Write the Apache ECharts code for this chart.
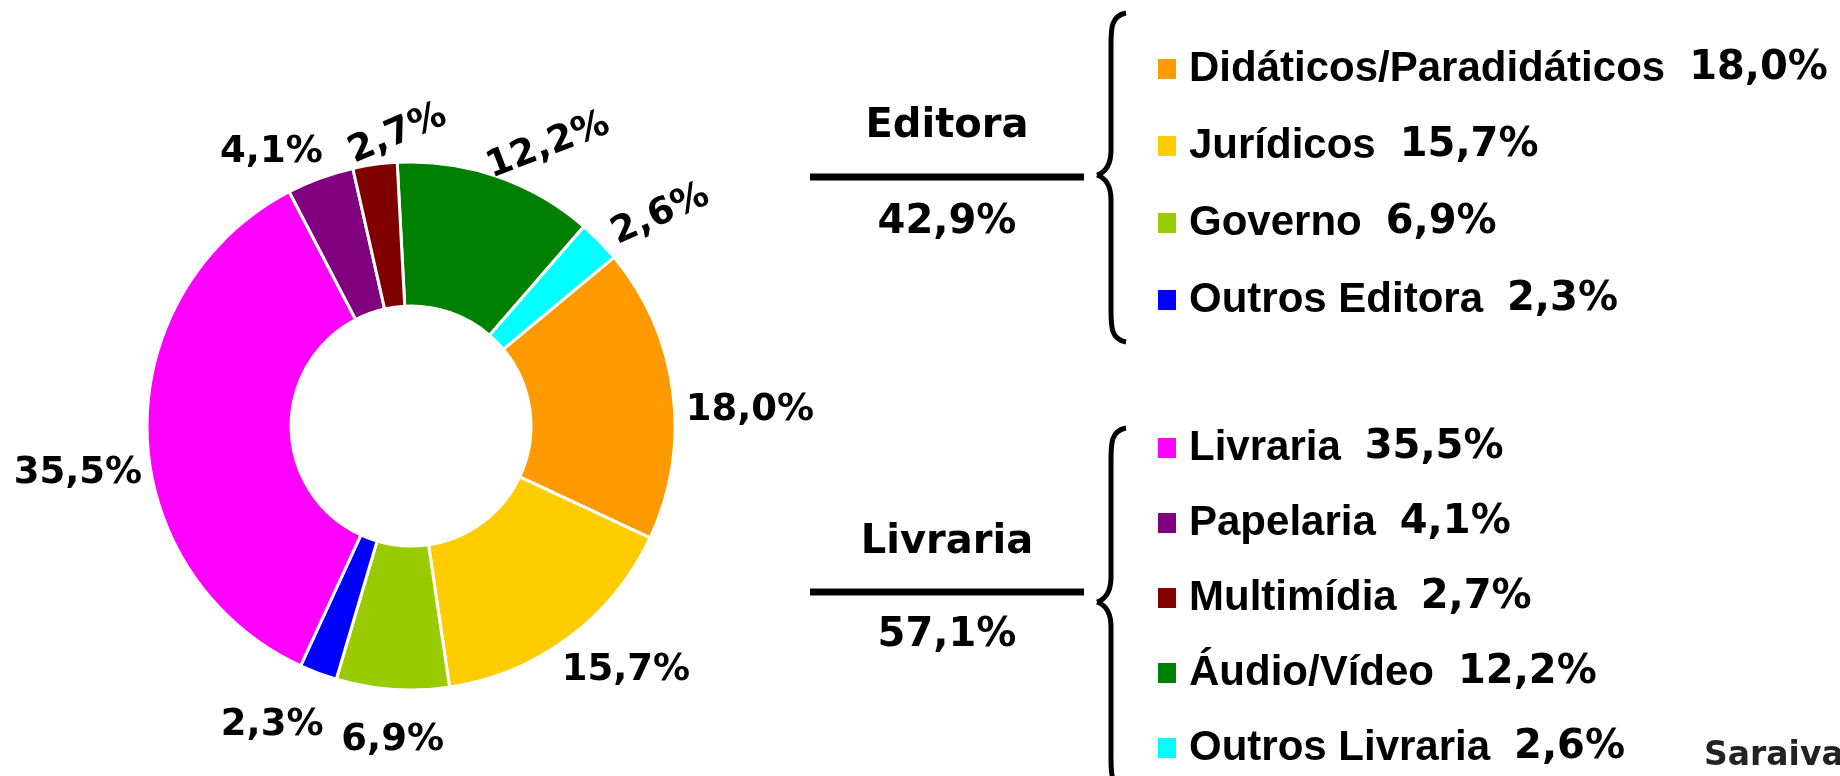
<!DOCTYPE html>
<html>
<head>
<meta charset="utf-8">
<script src="https://cdn.jsdelivr.net/npm/echarts@6/dist/echarts.min.js"></script>
<style>
  html, body { margin: 0; padding: 0; background: #fff; }
  #chart { width: 1840px; height: 776px; }
</style>
</head>
<body>
<div id="chart"></div>
<script>
// share of sales by segment (%)
const editoraNames = ['Didáticos/Paradidáticos', 'Jurídicos', 'Governo', 'Outros Editora'];
const editoraValues = [18.0, 15.7, 6.9, 2.3];

const livrariaNames = ['Livraria', 'Papelaria', 'Multimídia', 'Áudio/Vídeo', 'Outros Livraria'];
const livrariaValues = [35.5, 4.1, 2.7, 12.2, 2.6];

const groupNames = ['Editora', 'Livraria'];
const groupTotals = [42.9, 57.1];

// slices clockwise from the top
const sliceOrder = ['Áudio/Vídeo', 'Outros Livraria', 'Didáticos/Paradidáticos', 'Jurídicos',
  'Governo', 'Outros Editora', 'Livraria', 'Papelaria', 'Multimídia'];

const colors = {
  'Didáticos/Paradidáticos': '#ff9900',
  'Jurídicos': '#ffcc00',
  'Governo': '#99cc00',
  'Outros Editora': '#0000ff',
  'Livraria': '#ff00ff',
  'Papelaria': '#800080',
  'Multimídia': '#800000',
  'Áudio/Vídeo': '#008000',
  'Outros Livraria': '#00ffff'
};

// labels at the top are tilted, the others get a small push
const labelRotate = { 'Multimídia': 23, 'Áudio/Vídeo': 21, 'Outros Livraria': 24 };
const labelNudge = {
  'Áudio/Vídeo': [-24, 5],
  'Outros Livraria': [-10, 6],
  'Didáticos/Paradidáticos': [-14, 21],
  'Jurídicos': [-25, 15],
  'Governo': [58, 29],
  'Outros Editora': [18, 32],
  'Livraria': [22, 41],
  'Papelaria': [15, -5],
  'Multimídia': [83, 4]
};

const valueOf = {};
editoraNames.forEach((n, i) => { valueOf[n] = editoraValues[i]; });
livrariaNames.forEach((n, i) => { valueOf[n] = livrariaValues[i]; });

function fmt(v) {
  return v.toFixed(1).replace('.', ',') + '%';
}

const numFont = 'DejaVu Sans';
const nameFont = 'Liberation Sans';

const legendText = {
  rich: {
    n: { fontFamily: nameFont, fontWeight: 'bold', fontSize: 42, color: '#000', lineHeight: 50, padding: [0, 0, 0, 7] },
    v: { fontFamily: numFont, fontWeight: 'bold', fontSize: 40, color: '#000', lineHeight: 50, padding: [0, 0, 0, 24] }
  }
};

function makeLegend(names, top, gap) {
  return {
    data: names,
    orient: 'vertical',
    left: 1151,
    top: top,
    itemGap: gap,
    icon: 'rect',
    itemWidth: 20,
    itemHeight: 22,
    selectedMode: false,
    formatter: n => '{n|' + n + '}{v|' + fmt(valueOf[n]) + '}',
    textStyle: legendText
  };
}

// curly brace pointing left, built from curves and lines
function brace(top, tip, bottom) {
  const st = { stroke: '#000', lineWidth: 5, fill: 'none' };
  const xs = 1111, xe = 1126, xt = 1097;
  return [
    { type: 'bezierCurve', shape: { x1: xe, y1: top, cpx1: xs - 1, cpy1: top + 3, cpx2: xs, cpy2: top + 17, x2: xs, y2: top + 37 }, style: st },
    { type: 'line', shape: { x1: xs, y1: top + 37, x2: xs, y2: tip - 25 }, style: st },
    { type: 'bezierCurve', shape: { x1: xs, y1: tip - 25, cpx1: xs, cpy1: tip - 10, cpx2: xs - 5, cpy2: tip - 3, x2: xt, y2: tip }, style: st },
    { type: 'bezierCurve', shape: { x1: xt, y1: tip, cpx1: xs - 5, cpy1: tip + 3, cpx2: xs, cpy2: tip + 10, x2: xs, y2: tip + 25 }, style: st },
    { type: 'line', shape: { x1: xs, y1: tip + 25, x2: xs, y2: bottom - 37 }, style: st },
    { type: 'bezierCurve', shape: { x1: xs, y1: bottom - 37, cpx1: xs, cpy1: bottom - 17, cpx2: xs - 1, cpy2: bottom - 3, x2: xe, y2: bottom }, style: st }
  ];
}

const groupY = [[127, 177, 223], [543, 592, 636]];
const groupGraphics = [];
groupNames.forEach((g, i) => {
  const [yName, yLine, yVal] = groupY[i];
  const txt = {
    fill: '#000', font: 'bold 40px "DejaVu Sans"', align: 'center', verticalAlign: 'middle',
    textShadowColor: '#aaa', textShadowOffsetX: 2, textShadowOffsetY: 2
  };
  groupGraphics.push(
    { type: 'text', x: 947, y: yName, style: Object.assign({ text: g }, txt) },
    { type: 'line', shape: { x1: 810, y1: yLine, x2: 1084, y2: yLine }, style: { stroke: '#000', lineWidth: 7 } },
    { type: 'text', x: 947, y: yVal, style: Object.assign({ text: fmt(groupTotals[i]) }, txt) }
  );
});

const chart = echarts.init(document.getElementById('chart'));
chart.setOption({
  backgroundColor: '#fff',
  animation: false,
  legend: [
    makeLegend(editoraNames, 43, 35),
    makeLegend(livrariaNames, 422, 33)
  ],
  graphic: groupGraphics.concat(brace(13, 175, 342), brace(428, 602, 790), [
    {
      type: 'text', x: 1704, y: 756,
      style: {
        text: 'Saraiva', fill: '#222', font: 'bold 33px "DejaVu Sans"', verticalAlign: 'middle',
        textShadowColor: '#bbb', textShadowOffsetX: 2, textShadowOffsetY: 2
      }
    }
  ]),
  series: [
    {
      type: 'pie',
      center: [411, 426],
      radius: [120, 264],
      startAngle: 93,
      clockwise: true,
      avoidLabelOverlap: false,
      silent: true,
      itemStyle: { borderColor: '#fff', borderWidth: 3 },
      label: {
        position: 'outside',
        formatter: p => fmt(p.value),
        color: '#000',
        fontFamily: numFont,
        fontWeight: 'bold',
        fontSize: 37
      },
      labelLine: { show: false, length: 22, length2: 0 },
      labelLayout: p => {
        const d = labelNudge[sliceOrder[p.dataIndex]] || [0, 0];
        return { dx: d[0], dy: d[1] };
      },
      data: sliceOrder.map(name => {
        const item = { name: name, value: valueOf[name], itemStyle: { color: colors[name] } };
        if (labelRotate[name] !== undefined) item.label = { rotate: labelRotate[name] };
        return item;
      })
    }
  ]
});
</script>
</body>
</html>
